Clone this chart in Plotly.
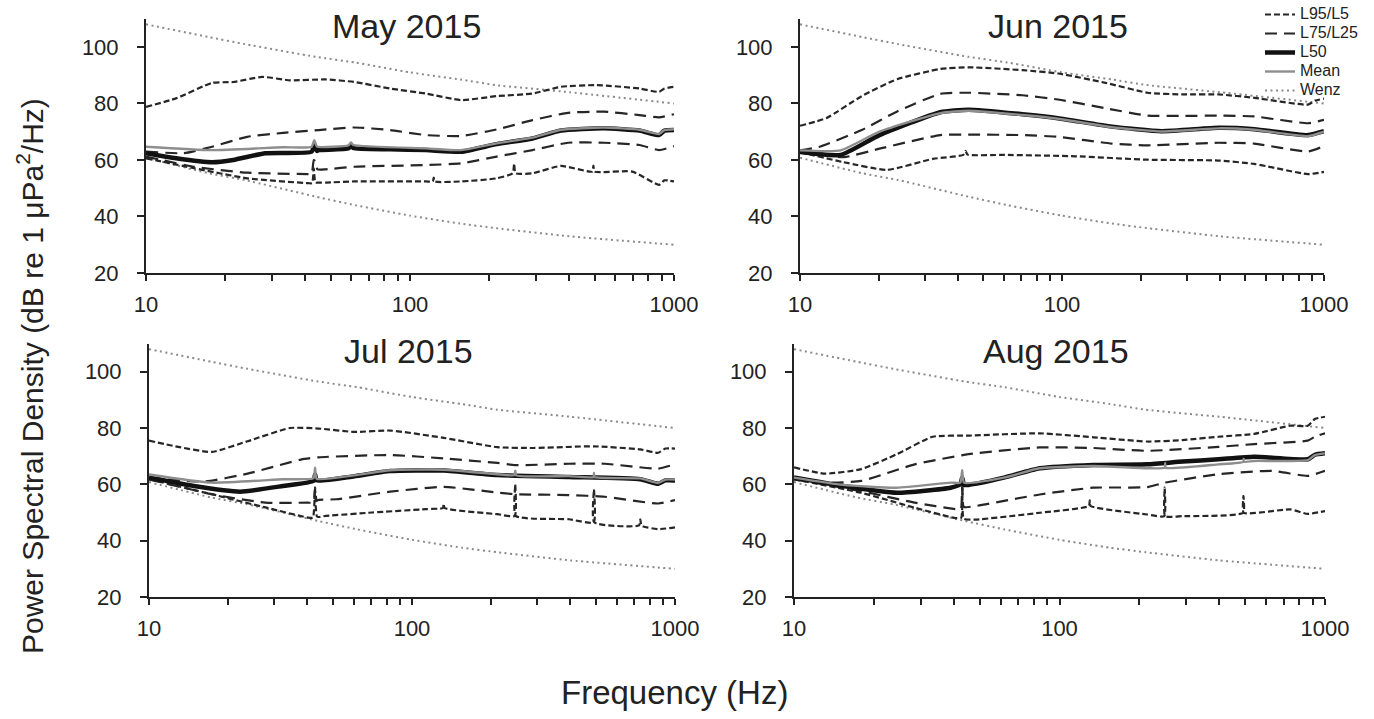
import plotly.graph_objects as go

# ---------------- data ----------------
months = ["May 2015", "Jun 2015", "Jul 2015", "Aug 2015"]

wenz_f = [10, 17.3, 23.7, 44, 62, 100, 155, 211, 400, 1000]
wenz_upper = [108, 103.5, 101, 96.5, 94.5, 91, 88.5, 86.5, 84, 80]
wenz_lower = [60.8, 55.3, 52.9, 47, 44, 40.3, 37.5, 35.9, 33, 30]

# May 2015
may_l95_f = [10, 13, 17.8, 21.4, 27.5, 35.2, 48, 61.5, 84, 115, 156, 213, 291, 373, 509, 740, 877, 920, 1000]
may_l95 = [78.8, 81.8, 87.3, 87.6, 89.4, 88.2, 88.5, 87.6, 85.3, 83.5, 81.2, 82.6, 83.5, 85.9, 86.5, 85.3, 84.1, 85.3, 85.9]
may_l75_f = [10, 13.9, 17.8, 24.2, 33.1, 45.1, 61.5, 84, 115, 156, 213, 291, 397, 542, 740, 877, 1000]
may_l75 = [63, 62.4, 64.7, 68.2, 69.6, 70.6, 71.5, 70.6, 68.8, 68.5, 70.8, 74.1, 76.7, 77.1, 75.9, 75.1, 76.2]
may_l50_f = [10, 13, 17.8, 21.4, 28.3, 42.4, 43.4, 44.4, 45.1, 58.5, 59.7, 61, 84, 115, 156, 213, 291, 373, 542, 740, 877, 920, 1000]
may_l50 = [62.4, 60.6, 59.2, 60, 62.4, 62.9, 65.3, 63.2, 63.5, 64.1, 65.3, 64.2, 63.8, 63.5, 62.9, 65.6, 67.6, 70.4, 71.2, 70.4, 68.8, 70.4, 70.6]
may_mean_f = [10, 17.8, 33.1, 42.4, 43.4, 44.4, 58.5, 59.7, 61, 115, 156, 213, 291, 373, 542, 740, 877, 920, 1000]
may_mean = [64.7, 63.5, 64.5, 64.7, 67, 64.8, 65.2, 66.2, 65.3, 64.1, 63.5, 65.9, 67.9, 70.7, 71.5, 70.7, 69.2, 70.6, 70.9]
may_l25_f = [10, 15.2, 24.2, 41.1, 42.4, 43.2, 43.8, 44.6, 48, 61.5, 115, 156, 213, 291, 397, 542, 740, 877, 1000]
may_l25 = [61.2, 57.6, 55.5, 55, 55, 60, 59.5, 56.7, 56.7, 57.6, 58.2, 58.8, 61.2, 63.5, 66.1, 66.1, 65.3, 63.5, 64.9]
may_l5_f = [10, 15.2, 24.2, 41.1, 42.6, 43.2, 43.8, 45.1, 48, 61.5, 115, 122, 123, 124, 156, 213, 245, 248, 251, 291, 373, 490, 495, 500, 695, 877, 920, 1000]
may_l5 = [60.6, 57.1, 53.5, 51.8, 51.8, 57, 52, 52, 52, 52.4, 52.4, 52.4, 53.8, 52.4, 52.4, 53.5, 55.3, 58.8, 55.3, 55.3, 57.9, 55.9, 58, 55.9, 55.9, 51.2, 52.8, 52.4]

# Jun 2015
jun_l95_f = [10, 12.6, 17.2, 23.5, 34.3, 44, 70.6, 96.6, 145, 212, 290, 396, 542, 869, 925, 1000]
jun_l95 = [72.1, 74.8, 82.6, 88.6, 92.2, 92.8, 91.8, 90.6, 87.4, 83.8, 83.2, 83.2, 82, 79.6, 81, 81.7]
jun_l75_f = [10, 11.8, 17.2, 23.5, 34.3, 44, 70.6, 96.6, 145, 212, 290, 396, 542, 869, 1000]
jun_l75 = [63.4, 64.6, 70.6, 77.2, 83.4, 83.8, 82.9, 81.4, 78.4, 75.7, 75.6, 75.7, 75.4, 73, 74.2]
jun_l50_f = [10, 14.3, 20.1, 34.3, 44, 70.6, 96.6, 155, 240, 396, 542, 869, 1000]
jun_l50 = [62.8, 61.8, 68.8, 76.9, 77.8, 76.2, 74.8, 71.8, 70.2, 71.4, 70.9, 68.8, 70.2]
jun_mean_f = [10, 14.3, 20.1, 34.3, 44, 70.6, 96.6, 155, 240, 396, 542, 869, 1000]
jun_mean = [63.4, 63.4, 70, 76.6, 77.4, 75.9, 74.6, 71.6, 70.1, 71.2, 70.7, 68.4, 70]
jun_l25_f = [10, 14.7, 20.1, 34.3, 44, 70.6, 96.6, 155, 212, 396, 542, 869, 1000]
jun_l25 = [62.8, 61, 64, 68.8, 69, 68.8, 68.2, 65.8, 65.2, 66.1, 65.8, 63, 64.9]
jun_l5_f = [10, 14.7, 21.4, 32.2, 42, 42.8, 43.6, 60.4, 113, 212, 396, 542, 869, 1000]
jun_l5 = [62.8, 59.2, 56.5, 60.4, 61.8, 63.2, 61.9, 61.8, 61.3, 60.1, 59.8, 58.6, 55, 55.8]

# Jul 2015
jul_l95_f = [10, 12.6, 17.3, 23.7, 34.4, 44.2, 60.4, 82.6, 132, 211, 289, 492, 738, 863, 919, 1000]
jul_l95 = [75.5, 73.5, 71.5, 75.3, 80, 79.8, 78.6, 79.1, 76.5, 73.2, 72.9, 73.5, 72.4, 71.2, 72.7, 72.7]
jul_l75_f = [10, 16.2, 23.7, 37.8, 44.2, 82.6, 132, 211, 247, 395, 540, 863, 1000]
jul_l75 = [62.4, 61, 63.8, 68.8, 69.6, 70.4, 69.2, 67.6, 66.8, 67.3, 67.3, 65.6, 67.1]
jul_l50_f = [10, 14.8, 22.2, 32.3, 42.2, 42.8, 43.4, 60.4, 82.6, 132, 211, 395, 738, 863, 919, 1000]
jul_l50 = [62.4, 59.4, 57.4, 59.4, 61.2, 63.5, 61.4, 62.9, 64.7, 64.9, 63.3, 62.6, 61.8, 60.2, 61.4, 61.4]
jul_mean_f = [10, 17.3, 32.3, 42.2, 42.8, 43.4, 60.4, 82.6, 132, 211, 245, 247, 249, 395, 490, 492, 494, 738, 863, 919, 1000]
jul_mean = [63.5, 60.6, 61.8, 62.2, 65.9, 62, 63.2, 65, 65.2, 63.6, 63.3, 64.8, 63.2, 62.9, 62.6, 64, 62.6, 62.1, 60.5, 61.7, 61.7]
jul_l25_f = [10, 17.3, 27.7, 40.2, 42.2, 42.8, 43.4, 44.2, 51.6, 82.6, 132, 211, 247, 395, 540, 863, 1000]
jul_l25 = [61.8, 56.5, 53.5, 53.5, 53.5, 58.8, 54.2, 54.5, 54.7, 57.4, 59.1, 57.1, 56.5, 56.2, 55.6, 53.2, 54.4]
jul_l5_f = [10, 17.3, 27.7, 40.2, 42, 42.8, 43.6, 47.1, 70.6, 113, 131, 132, 133, 211, 246, 247, 248, 395, 491, 492, 493, 730, 738, 746, 863, 1000]
jul_l5 = [61.8, 56.5, 51.8, 48.2, 48.2, 58.8, 48.5, 48.8, 50, 51.2, 51.6, 53.2, 51.6, 49.4, 48.8, 60, 48.8, 47.6, 46.5, 58.2, 46.5, 45.4, 47.6, 45.3, 44.1, 44.7]

# Aug 2015
aug_l95_f = [10, 13.1, 17.9, 24.4, 33.3, 45.4, 84.3, 134, 214, 291, 397, 541, 738, 861, 916, 1000]
aug_l95 = [66, 63.8, 65.4, 70.7, 76.9, 77.3, 78.1, 76.7, 75.2, 75.7, 76.9, 77.9, 80.8, 80.8, 83.2, 84]
aug_l75_f = [10, 13.1, 17.9, 28.5, 45.4, 84.3, 134, 214, 397, 541, 861, 916, 1000]
aug_l75 = [62.4, 60.6, 61.2, 67.1, 70.7, 73.1, 72.9, 71.9, 73.3, 74.3, 75.5, 76.9, 78.1]
aug_l50_f = [10, 15.3, 24.4, 38.9, 42.3, 43, 43.7, 45.4, 61.8, 84.3, 134, 214, 291, 397, 541, 861, 916, 1000]
aug_l50 = [62.4, 59.4, 57, 58.8, 60, 62.4, 59.8, 59.8, 62.4, 65.7, 66.9, 67.1, 68.1, 68.9, 69.8, 68.9, 70.5, 71]
aug_mean_f = [10, 15.3, 24.4, 38.9, 42.3, 43, 43.7, 61.8, 84.3, 134, 214, 249, 250, 251, 397, 493, 494, 495, 541, 861, 916, 1000]
aug_mean = [62.4, 59.8, 58.8, 60.6, 60.6, 65, 60.6, 62.4, 65.7, 66.5, 65.7, 65.9, 67.5, 65.9, 67.1, 68, 69, 68, 68.3, 68.6, 70.4, 71]
aug_l25_f = [10, 17.9, 28.5, 41.3, 42.5, 43, 43.6, 48.3, 84.3, 134, 214, 249, 397, 631, 861, 1000]
aug_l25 = [61.8, 57.6, 53.5, 51.1, 51.1, 59.4, 52, 52.3, 56.4, 58.8, 59, 60.6, 63.6, 64.8, 63, 64.8]
aug_l5_f = [10, 17.9, 28.5, 40.1, 42.6, 43.1, 43.6, 48.3, 84.3, 129, 130, 131, 214, 248, 249, 250, 291, 492, 493, 494, 738, 861, 1000]
aug_l5 = [61.8, 57, 51.7, 48.1, 48.1, 58.8, 47.8, 47.5, 49.9, 52.3, 54.3, 52.3, 49.3, 48.7, 58.8, 48.7, 48.7, 49.9, 55.8, 49.9, 51.1, 49.5, 50.5]

x_tickvals = [10, 20, 30, 40, 50, 60, 70, 80, 90, 100, 200, 300, 400, 500, 600, 700, 800, 900, 1000]
x_ticktext = ["10", "", "", "", "", "", "", "", "", "100", "", "", "", "", "", "", "", "", "1000"]
y_tickvals = [20, 40, 60, 80, 100]

# ---------------- styling ----------------
W, H = 1374, 719
FONT = "Liberation Sans, Arial, sans-serif"
INK = "#222222"

styles = {
    "L95/L5": dict(color="#262626", width=2.2, dash="6px,3px"),
    "L75/L25": dict(color="#262626", width=2.2, dash="12px,7px"),
    "L50": dict(color="#111111", width=4.5),
    "Mean": dict(color="#8e8e8e", width=2.4),
    "Wenz": dict(color="#8a8a8a", width=2, dash="2px,3.5px"),
}
ranks = {"L95/L5": 1, "L75/L25": 2, "L50": 3, "Mean": 4, "Wenz": 5}

panels = [
    dict(title=months[0], series=[("L95/L5", may_l95_f, may_l95), ("L95/L5", may_l5_f, may_l5),
                                  ("L75/L25", may_l75_f, may_l75), ("L75/L25", may_l25_f, may_l25),
                                  ("L50", may_l50_f, may_l50), ("Mean", may_mean_f, may_mean)],
         xd=(146, 674), yd=(18.7, 273)),
    dict(title=months[1], series=[("L95/L5", jun_l95_f, jun_l95), ("L95/L5", jun_l5_f, jun_l5),
                                  ("L75/L25", jun_l75_f, jun_l75), ("L75/L25", jun_l25_f, jun_l25),
                                  ("L50", jun_l50_f, jun_l50), ("Mean", jun_mean_f, jun_mean)],
         xd=(800, 1324), yd=(18.7, 273)),
    dict(title=months[2], series=[("L95/L5", jul_l95_f, jul_l95), ("L95/L5", jul_l5_f, jul_l5),
                                  ("L75/L25", jul_l75_f, jul_l75), ("L75/L25", jul_l25_f, jul_l25),
                                  ("L50", jul_l50_f, jul_l50), ("Mean", jul_mean_f, jul_mean)],
         xd=(149, 675), yd=(343.5, 597)),
    dict(title=months[3], series=[("L95/L5", aug_l95_f, aug_l95), ("L95/L5", aug_l5_f, aug_l5),
                                  ("L75/L25", aug_l75_f, aug_l75), ("L75/L25", aug_l25_f, aug_l25),
                                  ("L50", aug_l50_f, aug_l50), ("Mean", aug_mean_f, aug_mean)],
         xd=(794, 1325), yd=(343.5, 597)),
]

fig = go.Figure()
shown = set()
layout_axes = {}
annotations = []

for i, p in enumerate(panels):
    n = "" if i == 0 else str(i + 1)
    xa, ya = "x" + n, "y" + n

    def add(name, fx, fy):
        show = name not in shown
        shown.add(name)
        fig.add_trace(go.Scatter(
            x=fx, y=fy, mode="lines",
            name='<span style="font-size:16px">' + name + '</span>',
            legendgroup=name, showlegend=show,
            legendrank=ranks[name], line=dict(**styles[name], shape="spline", smoothing=0.5),
            xaxis=xa, yaxis=ya, hoverinfo="skip"))

    add("Wenz", wenz_f, wenz_upper)
    add("Wenz", wenz_f, wenz_lower)
    for name, fx, fy in p["series"]:
        add(name, fx, fy)

    x0, x1 = p["xd"]
    y0, y1 = p["yd"]
    layout_axes["xaxis" + n] = dict(
        domain=[x0 / W, x1 / W], anchor=ya, type="log", range=[1, 3], automargin=False,
        tickvals=x_tickvals, ticktext=x_ticktext, ticks="outside", ticklen=6, tickwidth=2,
        tickcolor=INK, showline=True, linecolor=INK, linewidth=2, showgrid=False,
        zeroline=False, tickfont=dict(size=22, color=INK, family=FONT), ticklabelstandoff=5)
    layout_axes["yaxis" + n] = dict(
        domain=[1 - y1 / H, 1 - y0 / H], anchor=xa, range=[20, 110], automargin=False,
        tickvals=y_tickvals, ticks="outside", ticklen=7, tickwidth=2, tickcolor=INK,
        showline=True, linecolor=INK, linewidth=2, showgrid=False, zeroline=False,
        tickfont=dict(size=22, color=INK, family=FONT), ticklabelstandoff=14)
    annotations.append(dict(
        text=p["title"], x=((x0 + x1) / 2 - 4) / W, y=1 - (y0 + 7) / H, xref="paper", yref="paper",
        xanchor="center", yanchor="middle", showarrow=False,
        font=dict(size=34, color=INK, family=FONT)))

annotations.append(dict(text="Frequency (Hz)", x=674 / W, y=1 - 692 / H, xref="paper", yref="paper",
                        xanchor="center", yanchor="middle", showarrow=False,
                        font=dict(size=33, color=INK, family=FONT)))
annotations.append(dict(text="Power Spectral Density (dB re 1 μPa<sup>2</sup>/Hz)", x=30 / W, y=1 - 376 / H,
                        xref="paper", yref="paper", xanchor="center", yanchor="middle", textangle=-90,
                        showarrow=False, font=dict(size=30, color=INK, family=FONT)))

fig.update_layout(
    width=W, height=H, margin=dict(l=0, r=0, t=0, b=0, autoexpand=False),
    paper_bgcolor="white", plot_bgcolor="white",
    font=dict(family=FONT, color=INK),
    annotations=annotations,
    legend=dict(x=1260 / W, y=1.0, xanchor="left", yanchor="top", bgcolor="rgba(0,0,0,0)",
                font=dict(size=12, color=INK, family=FONT), tracegroupgap=0,
                traceorder="normal"),
    **layout_axes,
)

fig.write_html("out.html")
